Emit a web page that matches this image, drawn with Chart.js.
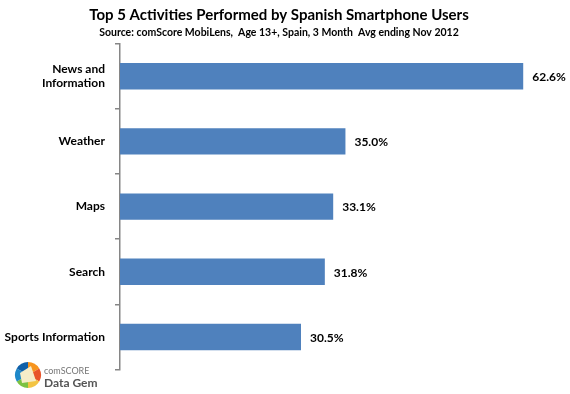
<!DOCTYPE html>
<html>
<head>
<meta charset="utf-8">
<script src="https://cdn.jsdelivr.net/npm/chart.js@4"></script>
<style>
  html, body { margin: 0; padding: 0; background: #fff; }
  #wrap { width: 570px; height: 394px; }
</style>
</head>
<body>
<div id="wrap"><canvas id="myChart" width="570" height="394"></canvas></div>
<script>
// data
const categories = [['News and', 'Information'], 'Weather', 'Maps', 'Search', 'Sports Information'];
const values = [62.6, 35.0, 33.1, 31.8, 28.1];   // bar lengths as drawn
const valueLabels = ['62.6%', '35.0%', '33.1%', '31.8%', '30.5%'];  // printed labels

const FONT = 'Lato, "Open Sans", sans-serif';

// labels at the end of each bar
const barLabels = {
  id: 'barLabels',
  afterDatasetsDraw(chart) {
    const ctx = chart.ctx;
    const meta = chart.getDatasetMeta(0);
    ctx.save();
    ctx.font = 'bold 12px ' + FONT;
    ctx.fillStyle = '#000';
    ctx.textAlign = 'left';
    ctx.textBaseline = 'middle';
    meta.data.forEach((bar, i) => {
      ctx.fillText(valueLabels[i], bar.x + 9, bar.y + 1);
    });
    ctx.restore();
  }
};

// little comScore Data Gem logo, bottom left
const logo = {
  id: 'logo',
  afterDraw(chart) {
    const ctx = chart.ctx;
    const cx = 28, cy = 375, r = 13;
    const cols = ['#f7941d', '#e8542a', '#f3c443', '#7cc242', '#1e88c9', '#0f5fa8'];
    ctx.save();
    for (let i = 0; i < cols.length; i++) {
      ctx.beginPath();
      ctx.moveTo(cx, cy);
      ctx.arc(cx, cy, r, i * Math.PI / 3 - Math.PI / 2, (i + 1) * Math.PI / 3 - Math.PI / 2);
      ctx.closePath();
      ctx.fillStyle = cols[i];
      ctx.fill();
    }
    ctx.beginPath();
    ctx.moveTo(cx + 3, cy - 9);
    ctx.lineTo(cx + 8, cy + 6);
    ctx.lineTo(cx - 6, cy + 8);
    ctx.lineTo(cx - 8, cy - 2);
    ctx.closePath();
    ctx.fillStyle = '#f6ecc8';
    ctx.fill();
    ctx.font = '9px ' + FONT;
    ctx.fillStyle = '#777';
    ctx.textBaseline = 'alphabetic';
    ctx.fillText('comSCORE', 44, 374);
    ctx.font = 'bold 12px ' + FONT;
    ctx.fillStyle = '#555';
    ctx.fillText('Data Gem', 44, 387);
    ctx.restore();
  }
};

const ctx = document.getElementById('myChart');
const myChart = new Chart(ctx, {
  type: 'bar',
  data: {
    labels: categories,
    datasets: [{
      data: values,
      backgroundColor: '#4F81BD',
      borderWidth: 0,
      barPercentage: 0.405,
      categoryPercentage: 1.0
    }]
  },
  options: {
    indexAxis: 'y',
    responsive: false,
    animation: false,
    layout: { padding: { left: 0, right: 12, top: 0, bottom: 18 } },
    scales: {
      x: {
        display: false,
        min: 0,
        max: 68
      },
      y: {
        afterFit(scale) { scale.width = 120; },
        border: { display: true, color: '#868686', width: 1.5 },
        grid: { drawOnChartArea: false, tickLength: 5, color: '#868686', lineWidth: 1.5, offset: true },
        ticks: {
          color: '#000',
          padding: 10,
          font: { family: FONT, size: 12, weight: 'bold' }
        }
      }
    },
    plugins: {
      legend: { display: false },
      tooltip: { enabled: false },
      title: {
        display: true,
        text: 'Top 5 Activities Performed by Spanish Smartphone Users',
        color: '#000',
        font: { family: FONT, size: 15, weight: 'bold' },
        padding: { top: 6, bottom: 0 }
      },
      subtitle: {
        display: true,
        text: 'Source: comScore MobiLens,  Age 13+, Spain, 3 Month  Avg ending Nov 2012',
        color: '#000',
        font: { family: FONT, size: 10.5, weight: 'bold' },
        padding: { top: 2, bottom: 5 }
      }
    }
  },
  plugins: [barLabels, logo]
});
</script>
</body>
</html>
